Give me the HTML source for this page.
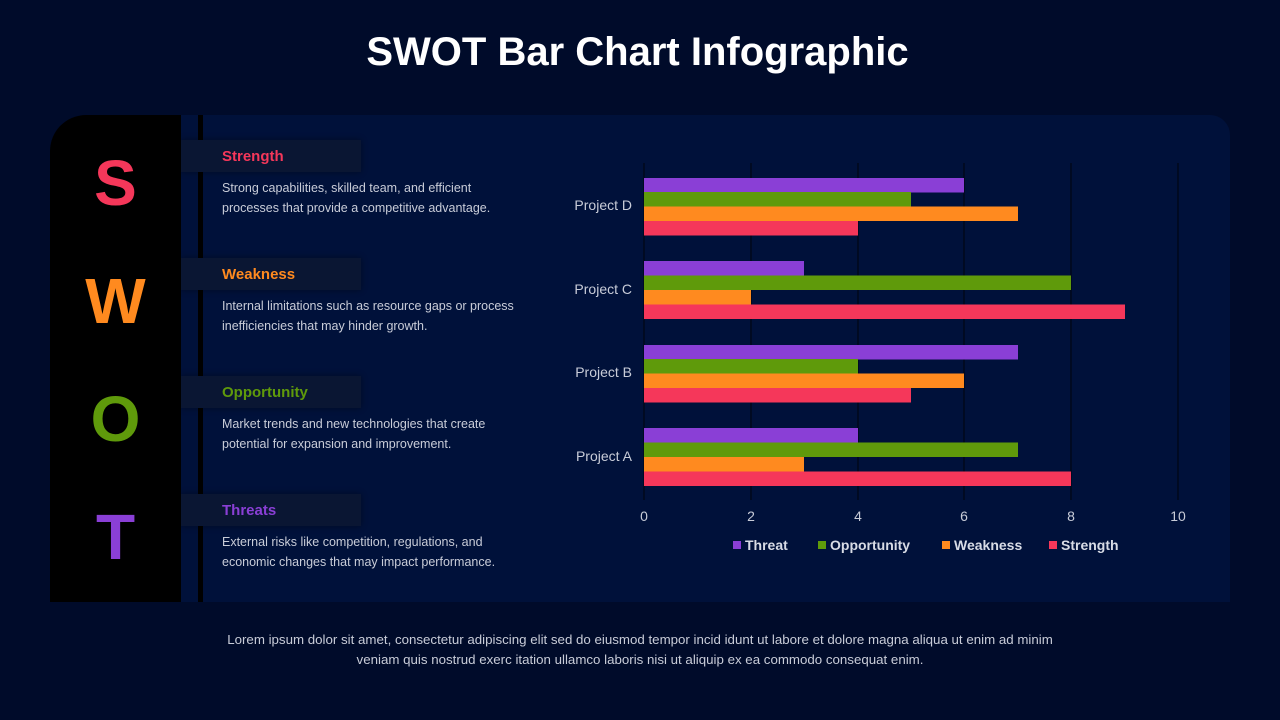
<!DOCTYPE html>
<html><head><style>
body{margin:0;width:1280px;height:720px;background:#000b2a;font-family:"Liberation Sans",sans-serif;position:relative;overflow:hidden}
.abs{position:absolute}
.title{left:0;width:1275px;top:30px;text-align:center;color:#fff;font-size:40px;font-weight:bold}
.panel{left:50px;top:115px;width:1180px;height:487px;background:#00113a;border-radius:36px 20px 0 0}
.col{left:50px;top:115px;width:131px;height:487px;background:#000;border-radius:36px 0 0 0}
.vline{left:198px;top:115px;width:5px;height:487px;background:#000}
.letter{left:50px;width:131px;text-align:center;font-size:64px;font-weight:bold}
.tab{left:181px;width:180px;height:32px;background:#0a1633;box-shadow:0 0 6px rgba(0,0,0,.4)}
.h{left:222px;font-size:15px;font-weight:bold}
.p{left:222px;font-size:12.5px;color:#c8ccd8;line-height:20px;width:300px}
.foot{left:0;width:1280px;top:630px;text-align:center;color:#c8ccd8;font-size:13.3px;line-height:20px}
</style></head><body>
<div class="abs title">SWOT Bar Chart Infographic</div>
<div class="abs panel"></div>
<div class="abs col"></div>
<div class="abs vline"></div>
<div class="abs letter" style="top:146px;color:#f5375a">S</div>
<div class="abs letter" style="top:264px;color:#ff8a1f">W</div>
<div class="abs letter" style="top:382px;color:#5f9a0b">O</div>
<div class="abs letter" style="top:500px;color:#8a3fd6">T</div>

<div class="abs tab" style="top:140px"></div>
<div class="abs h" style="top:148px;color:#f5375a">Strength</div>
<div class="abs p" style="top:178px">Strong capabilities, skilled team, and efficient processes that provide a competitive advantage.</div>
<div class="abs tab" style="top:258px"></div>
<div class="abs h" style="top:266px;color:#ff8a1f">Weakness</div>
<div class="abs p" style="top:296px">Internal limitations such as resource gaps or process inefficiencies that may hinder growth.</div>
<div class="abs tab" style="top:376px"></div>
<div class="abs h" style="top:384px;color:#5f9a0b">Opportunity</div>
<div class="abs p" style="top:414px">Market trends and new technologies that create potential for expansion and improvement.</div>
<div class="abs tab" style="top:494px"></div>
<div class="abs h" style="top:502px;color:#8a3fd6">Threats</div>
<div class="abs p" style="top:532px">External risks like competition, regulations, and economic changes that may impact performance.</div>

<svg class="abs" style="left:0;top:0" width="1280" height="720" font-family="Liberation Sans, sans-serif">
<g stroke="#000" stroke-width="0.8">
<line x1="644" y1="163" x2="644" y2="500"/><line x1="751" y1="163" x2="751" y2="500"/><line x1="858" y1="163" x2="858" y2="500"/><line x1="964" y1="163" x2="964" y2="500"/><line x1="1071" y1="163" x2="1071" y2="500"/><line x1="1178" y1="163" x2="1178" y2="500"/>
</g>
<g>
<rect x="644" y="178" width="320" height="14.5" fill="#8a3fd6"/>
<rect x="644" y="192" width="267" height="14.5" fill="#5f9a0b"/>
<rect x="644" y="206.5" width="374" height="14.5" fill="#ff8a1f"/>
<rect x="644" y="221" width="214" height="14.5" fill="#f5375a"/>
<rect x="644" y="261" width="160" height="14.5" fill="#8a3fd6"/>
<rect x="644" y="275.5" width="427" height="14.5" fill="#5f9a0b"/>
<rect x="644" y="290" width="107" height="14.5" fill="#ff8a1f"/>
<rect x="644" y="304.5" width="481" height="14.5" fill="#f5375a"/>
<rect x="644" y="345" width="374" height="14.5" fill="#8a3fd6"/>
<rect x="644" y="359" width="214" height="14.5" fill="#5f9a0b"/>
<rect x="644" y="373.5" width="320" height="14.5" fill="#ff8a1f"/>
<rect x="644" y="388" width="267" height="14.5" fill="#f5375a"/>
<rect x="644" y="428" width="214" height="14.5" fill="#8a3fd6"/>
<rect x="644" y="442.5" width="374" height="14.5" fill="#5f9a0b"/>
<rect x="644" y="457" width="160" height="14.5" fill="#ff8a1f"/>
<rect x="644" y="471.5" width="427" height="14.5" fill="#f5375a"/>
</g>
<g fill="#c8ccd8" font-size="14" text-anchor="end">
<text x="632" y="210">Project D</text><text x="632" y="294">Project C</text><text x="632" y="377">Project B</text><text x="632" y="461">Project A</text>
</g>
<g fill="#c8ccd8" font-size="14" text-anchor="middle">
<text x="644" y="521">0</text><text x="751" y="521">2</text><text x="858" y="521">4</text><text x="964" y="521">6</text><text x="1071" y="521">8</text><text x="1178" y="521">10</text>
</g>
<g font-size="14" font-weight="bold" fill="#d8dce6">
<rect x="733" y="541" width="8" height="8" fill="#8a3fd6"/><text x="745" y="550">Threat</text>
<rect x="818" y="541" width="8" height="8" fill="#5f9a0b"/><text x="830" y="550">Opportunity</text>
<rect x="942" y="541" width="8" height="8" fill="#ff8a1f"/><text x="954" y="550">Weakness</text>
<rect x="1049" y="541" width="8" height="8" fill="#f5375a"/><text x="1061" y="550">Strength</text>
</g>
</svg>
<div class="abs foot">Lorem ipsum dolor sit amet, consectetur adipiscing elit sed do eiusmod tempor incid idunt ut labore et dolore magna aliqua ut enim ad minim<br>veniam quis nostrud exerc itation ullamco laboris nisi ut aliquip ex ea commodo consequat enim.</div>
</body></html>
